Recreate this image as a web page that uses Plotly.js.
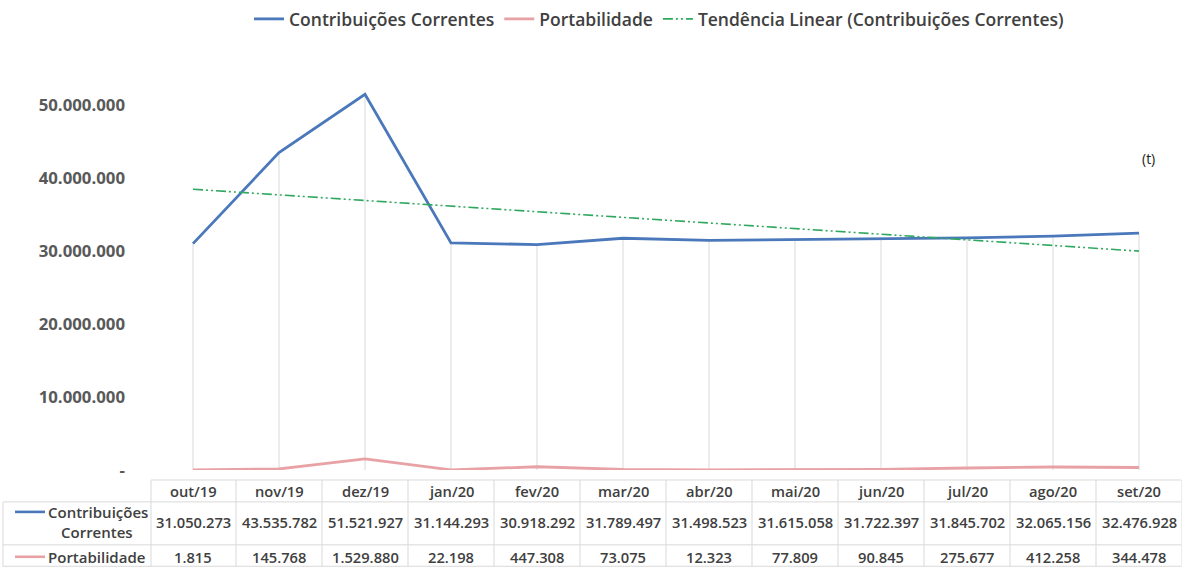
<!DOCTYPE html>
<html>
<head>
<meta charset="utf-8">
<script src="https://cdn.plot.ly/plotly-3.0.1.min.js"></script>
<style>
html,body{margin:0;padding:0;background:#fff;}
#chart{width:1184px;height:567px;}
</style>
</head>
<body>
<div id="chart"></div>
<script>
// ---- Data ----
const categories = ['out/19','nov/19','dez/19','jan/20','fev/20','mar/20','abr/20','mai/20','jun/20','jul/20','ago/20','set/20'];
const contribuicoes = [31050273, 43535782, 51521927, 31144293, 30918292, 31789497, 31498523, 31615058, 31722397, 31845702, 32065156, 32476928];
const portabilidade = [1815, 145768, 1529880, 22198, 447308, 73075, 12323, 77809, 90845, 275677, 412258, 344478];
const yTickVals = [0, 10000000, 20000000, 30000000, 40000000, 50000000];
const seriesNames = ['Contribuições Correntes', 'Portabilidade', 'Tendência Linear (Contribuições Correntes)'];

// ---- Helpers ----
function fmt(n){ return String(Math.round(n)).replace(/\B(?=(\d{3})+(?!\d))/g, '.'); }
const yTickText = yTickVals.map(v => v === 0 ? '-' : fmt(v));

// Linear trend (least squares over index 1..n)
const n = contribuicoes.length;
const xs = contribuicoes.map((_, i) => i + 1);
const xm = xs.reduce((a,b)=>a+b,0)/n;
const ym = contribuicoes.reduce((a,b)=>a+b,0)/n;
let sxy = 0, sxx = 0;
for (let i = 0; i < n; i++){ sxy += (xs[i]-xm)*(contribuicoes[i]-ym); sxx += (xs[i]-xm)*(xs[i]-xm); }
const slope = sxy/sxx, intercept = ym - slope*xm;
const trend = xs.map(x => intercept + slope*x);

// ---- Geometry ----
const W = 1184, H = 567;
const M = {l:150, r:2, t:68, b:97};
const PW = W - M.l - M.r, PH = H - M.t - M.b;
const px = x => (x - M.l)/PW;          // pixel x -> paper
const py = y => (H - M.b - y)/PH;      // pixel y -> paper

const BLUE = '#4a78ba', PINK = '#e8a2a6', GREEN = '#2fa860';
const TXT = '#404040', GRID = '#d9d9d9';
const FONT = 'Open Sans, sans-serif';

const traces = [
  { // drop lines
    x: categories, y: contribuicoes, type:'scatter', mode:'markers',
    marker:{size:1, opacity:0}, showlegend:false, hoverinfo:'skip',
    error_y:{type:'data', symmetric:false, array: contribuicoes.map(()=>0), arrayminus: contribuicoes, color:GRID, thickness:1, width:0}
  },
  { x: categories, y: contribuicoes, type:'scatter', mode:'lines', name: seriesNames[0],
    line:{color:BLUE, width:2.8} },
  { x: categories, y: portabilidade, type:'scatter', mode:'lines', name: seriesNames[1],
    line:{color:PINK, width:2.8} },
  { x: categories, y: trend, type:'scatter', mode:'lines', name: seriesNames[2],
    line:{color:GREEN, width:1.6, dash:'10px,3px,2px,3px,2px,3px'} }
];

// ---- Table (shapes + annotations) ----
const shapes = [];
const annotations = [];
const yHeadTop = 480, yHeadBot = 502, yRowMid = 545, yBottom = 567;
const xTabLeft = 3, xRight = 1181;
function hline(y, x0, x1){ shapes.push({type:'line', xref:'paper', yref:'paper', x0:px(x0), x1:px(x1), y0:py(y), y1:py(y), line:{color:GRID, width:1}}); }
hline(yHeadTop, 151, xRight);
hline(yHeadBot, xTabLeft, xRight);
hline(yRowMid, xTabLeft, xRight);
hline(yBottom-0.5, xTabLeft, xRight);
shapes.push({type:'line', xref:'paper', yref:'paper', x0:px(xTabLeft), x1:px(xTabLeft), y0:py(yHeadBot), y1:py(yBottom), line:{color:GRID, width:1}});
shapes.push({type:'line', xref:'paper', yref:'paper', x0:px(151), x1:px(151), y0:py(yHeadTop), y1:py(yBottom), line:{color:GRID, width:1}});
for (let i = 0; i < categories.length; i++){
  shapes.push({type:'line', xref:'x', yref:'paper', x0:i+0.5, x1:i+0.5, y0:py(yHeadTop), y1:py(yBottom), line:{color:GRID, width:1}});
}
// legend keys in table
shapes.push({type:'line', xref:'paper', yref:'paper', x0:px(15), x1:px(45), y0:py(512), y1:py(512), line:{color:BLUE, width:2.6}});
shapes.push({type:'line', xref:'paper', yref:'paper', x0:px(15), x1:px(45), y0:py(557), y1:py(557), line:{color:PINK, width:2.6}});

const lfont = {family:FONT, size:15, color:TXT, weight:600};
const tfont = {family:FONT, size:14.7, color:TXT, weight:600};
annotations.push({xref:'paper', yref:'paper', x:px(46), y:py(512), text:'Contribuições', showarrow:false, xanchor:'left', yanchor:'middle', font:lfont});
annotations.push({xref:'paper', yref:'paper', x:px(97), y:py(532), text:'Correntes', showarrow:false, xanchor:'center', yanchor:'middle', font:lfont});
annotations.push({xref:'paper', yref:'paper', x:px(46), y:py(557), text:'Portabilidade', showarrow:false, xanchor:'left', yanchor:'middle', font:lfont});
categories.forEach((c, i) => {
  annotations.push({xref:'x', yref:'paper', x:c, y:py(491), text:c, showarrow:false, xanchor:'center', yanchor:'middle', font:tfont});
  annotations.push({xref:'x', yref:'paper', x:c, y:py(522), text:fmt(contribuicoes[i]), showarrow:false, xanchor:'center', yanchor:'middle', font:tfont});
  annotations.push({xref:'x', yref:'paper', x:c, y:py(557), text:fmt(portabilidade[i]), showarrow:false, xanchor:'center', yanchor:'middle', font:tfont});
});
annotations.push({xref:'paper', yref:'paper', x:px(1148), y:py(158), text:'(t)', showarrow:false, xanchor:'center', yanchor:'middle', font:{family:FONT, size:14, color:'#222'}});

const layout = {
  width:W, height:H,
  margin:{l:M.l, r:M.r, t:M.t, b:M.b, pad:0},
  paper_bgcolor:'#fff', plot_bgcolor:'#fff',
  font:{family:FONT, color:TXT},
  showlegend:true,
  legend:{orientation:'h', x:px(659), xanchor:'center', y:py(19), yanchor:'middle',
    font:{family:FONT, size:17.5, color:TXT, weight:600}, itemwidth:30, tracegroupgap:0},
  xaxis:{type:'category', range:[-0.5, categories.length-0.5], showgrid:false, zeroline:false,
    showline:false, ticks:'', showticklabels:false, fixedrange:true},
  yaxis:{range:[0, 55000000], tickvals:yTickVals, ticktext:yTickText, showgrid:false, zeroline:false,
    showline:false, ticks:'', ticklabelstandoff:24,
    tickfont:{family:FONT, size:16.8, color:'#595959', weight:700}, fixedrange:true},
  shapes:shapes, annotations:annotations
};

Plotly.newPlot('chart', traces, layout, {displayModeBar:false, staticPlot:true});
</script>
</body>
</html>
